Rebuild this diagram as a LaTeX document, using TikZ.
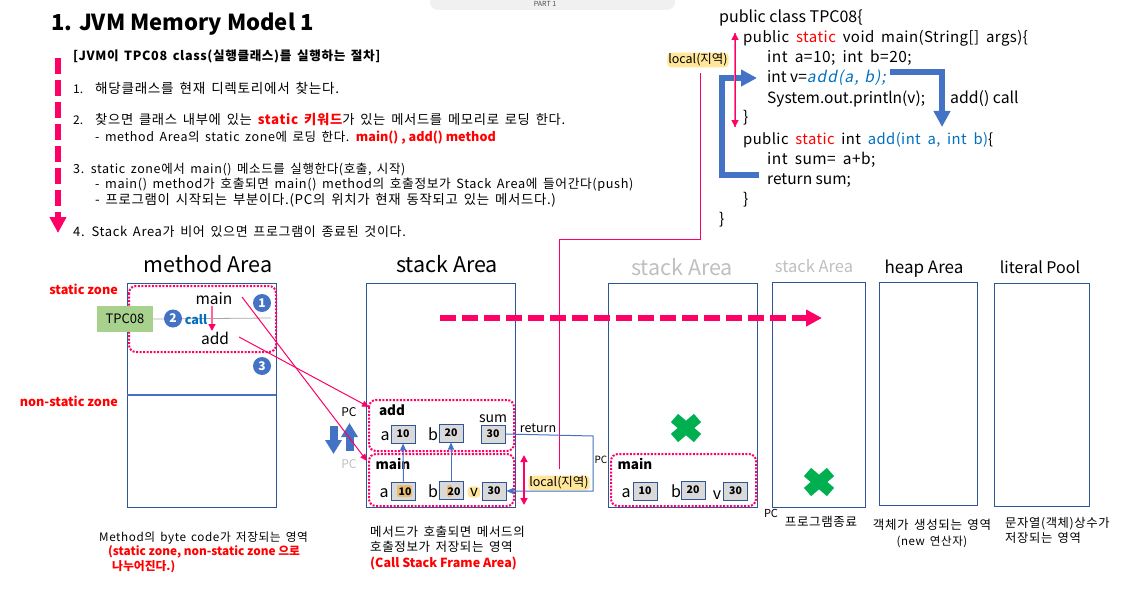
\documentclass[tikz,border=0pt]{standalone}
\usepackage{fontspec}
\setmainfont{Noto Sans CJK KR}
\newfontfamily\kr[LetterSpace=5,WordSpace=1.6]{Noto Sans CJK KR}
\newfontfamily\cwide[LetterSpace=3,WordSpace=1.8]{Noto Sans CJK KR}
\newfontfamily\slanted[FakeSlant=0.2,LetterSpace=7,WordSpace=1.3]{Noto Sans CJK KR}
\usetikzlibrary{calc,positioning,arrows.meta}
\newcommand{\fs}[1]{\fontsize{#1pt}{#1pt}\selectfont}
\definecolor{memblue}{HTML}{2F5597}
\definecolor{arrblue}{HTML}{4472C4}
\definecolor{hotpink}{HTML}{FF0066}
\definecolor{softpink}{HTML}{FF6699}
\definecolor{kwblue}{HTML}{0070C0}
\definecolor{locyellow}{HTML}{FFE699}
\definecolor{tpcgreen}{HTML}{A9D18E}
\definecolor{xgreen}{HTML}{00B050}
\tikzset{
  txt/.style={anchor=mid west,inner sep=0pt},
  ctr/.style={anchor=mid,inner sep=0pt},
  area/.style={draw=memblue,line width=1pt},
  zone/.style={draw=hotpink,line width=2pt,dash pattern=on 2pt off 1.5pt,rounded corners=7pt},
  cell/.style={draw=memblue,fill=black!15,line width=1pt,inner sep=0pt,minimum width=24pt,minimum height=18pt,font=\fs{10.5}\bfseries},
  num/.style={circle,fill=arrblue,text=white,inner sep=0pt,minimum size=18pt,font=\fs{12}\bfseries},
  local/.style={fill=locyellow,rounded corners=4pt,inner sep=1pt,font=\fs{12.5}},
  link/.style={draw=hotpink,line width=1pt},
  bigblue/.style={draw=arrblue,line width=5.5pt,-{Triangle[width=16pt,length=16pt]}},
  fatblue/.style={draw=arrblue,line width=8pt,-{Triangle[width=16pt,length=14pt]}},
  thinblue/.style={draw=arrblue,line width=1pt,-{Triangle[width=6pt,length=7pt]}},
  bigpink/.style={draw=hotpink,line width=5.5pt,dash pattern=on 16pt off 6pt,-{Triangle[width=16pt,length=16pt]}},
  crossmark/.style={draw=xgreen,line width=11pt}
}
\begin{document}
\begin{tikzpicture}[x=1pt,y=-1pt]
\useasboundingbox (0,0) rectangle (1131,591);
% page tab
\fill[black!6,rounded corners=8pt] (430,-12) rectangle (675,10);
\node[ctr,font=\fs{7},black!70] (part) at (545,4) {PART 1};
% steps
\node[txt,font=\fs{22}\bfseries] (title) at (51,28) {1. JVM Memory Model 1};
\draw[bigpink] (58,58)--(58,233);
\node[txt,font=\kr\fs{12.6}\bfseries] (head) at (73,58) {[JVM이 TPC08 class(실행클래스)를 실행하는 절차]};
\node[txt,font=\fs{12}] (one) at (73,91) {1.};
\node[txt,font=\kr\fs{13.6}] (oneb) at (95,91) {해당클래스를 현재 디렉토리에서 찾는다.};
\node[txt,font=\fs{12}] (two) at (73,122) {2.};
\node[txt,font=\kr\fs{13.3}] (twob) at (95,122) {찾으면 클래스 내부에 있는 \textcolor{red}{\bfseries static 키워드}가 있는 메서드를 메모리로 로딩 한다.};
\node[txt,font=\kr\fs{12.5}] (twoc) at (95,139) {- method Area의 static zone에 로딩 한다. \textcolor{red}{\normalfont\fs{12.6}\bfseries main() , add() method}};
\node[txt,font=\kr\fs{12.5}] (three) at (73,171) {3. static zone에서 main() 메소드를 실행한다(호출, 시작)};
\node[txt,font=\kr\fs{12.7}] (threeb) at (95,186) {- main() method가 호출되면 main() method의 호출정보가 Stack Area에 들어간다(push)};
\node[txt,font=\kr\fs{13.4}] (threec) at (95,202) {- 프로그램이 시작되는 부분이다.(PC의 위치가 현재 동작되고 있는 메서드다.)};
\node[txt,font=\kr\fs{13}] (four) at (73,234) {4. Stack Area가 비어 있으면 프로그램이 종료된 것이다.};
% code
\begin{scope}[every node/.style={txt,font=\fs{15.5}}]
  \node[font=\fs{16}] (cA) at (719,20) {public class TPC08\{};
  \node[font=\cwide\fs{15}] (cB) at (743,40) {public \textcolor{red}{static} void main(String[] args)\{};
  \node[font=\cwide\fs{15.5}] (cC) at (767,60) {int a=10; int b=20;};
  \node (cD) at (767,80) {int v=\textcolor{kwblue}{\slanted add(a, b);}};
  \node (cE) at (767,101) {System.out.println(v);};
  \node (cF) at (743,120) {\}};
  \node[font=\cwide\fs{14.8}] (cG) at (743,142) {public \textcolor{red}{static} int \textcolor{kwblue}{add(int a, int b)}\{};
  \node[font=\cwide\fs{15.5}] (cH) at (767,162) {int sum= a+b;};
  \node (cI) at (767,182) {return sum;};
  \node (cJ) at (743,202) {\}};
  \node (cK) at (719,222) {\}};
  \node[font=\fs{15.8}] (callnote) at (950,101) {add() call};
\end{scope}
\coordinate (callfrom) at (890,72);
\coordinate (callto) at (942,127);
\coordinate (backfrom) at (759,175);
\coordinate (backto) at (757,78);
\draw[bigblue] (callfrom)-|(callto);
\draw[bigblue] (backfrom)--(722,175)|-(backto);
\coordinate (scopetop) at (735,33);
\coordinate (scopeend) at (735,127);
\draw[softpink,line width=1.5pt] (scopetop)--(scopeend);
\draw[hotpink,line width=0.2pt,{Triangle[width=7pt,length=7pt]}-{Triangle[width=7pt,length=7pt]}] (scopetop)--(scopeend);
\node[local] (locA) at (698,60) {local(지역)};
\node[local] (locB) at (559,483) {local(지역)};
\coordinate (locturn) at (700,239);
\draw[link,shorten <=6pt,shorten >=5pt] (locB.north)|-(locturn)--(locturn|-locA.south);
% areas
\node[ctr,font=\fs{21.5}] (mtitle) at (208,270) {method Area};
\node[ctr,font=\fs{21.5}] (stitle) at (447,270) {stack Area};
\node[ctr,font=\fs{21.5},black!25] (s2title) at (682,273) {stack Area};
\node[ctr,font=\fs{16.5},black!25] (s3title) at (814,270) {stack Area};
\node[ctr,font=\fs{17}] (htitle) at (924,271) {heap Area};
\node[ctr,font=\fs{16}] (ltitle) at (1040,271) {literal Pool};
\draw[area] (127,283) rectangle (276,507);
\draw[arrblue,line width=1.5pt] (127,395)--(276,395);
\draw[area] (366.5,283) rectangle (515.5,507);
\draw[area] (608,283) rectangle (757,507);
\draw[area] (772,282) rectangle (865,507);
\draw[area] (879,282) rectangle (977,505);
\draw[area] (994,283) rectangle (1089,506);
% method area
\node[ctr,font=\fs{12.6}\bfseries,red,anchor=mid east] (szone) at (118,292) {static zone};
\node[ctr,font=\fs{12.6}\bfseries,red,anchor=mid east] (nzone) at (118,404) {non-static zone};
\draw[zone] (129,286) rectangle (276,352);
\node[fill=tpcgreen,inner sep=0pt,minimum width=56pt,minimum height=26pt,font=\fs{13}] (tpc) at (125,319) {TPC08};
\coordinate (wireend) at (271,318);
\draw[black!35,line width=0.8pt] (tpc.east)--(wireend);
\node[num] (nA) at (262,303) {1};
\node[num] (nB) at (173,318.5) {2};
\node[num] (nC) at (262,366) {3};
\node[ctr,font=\fs{12.5}\bfseries,kwblue] (call) at (196,322) {call};
\node[ctr,font=\fs{15.5}] (mmain) at (214,302) {main};
\node[ctr,font=\fs{15.5}] (madd) at (215,342) {add};
\draw[softpink,line width=1.5pt,-{Triangle[width=7pt,length=7pt,color=hotpink,fill=hotpink]}] (212,306)--(212,331);
% stack frames
\draw[zone] (369,400) rectangle (514,451);
\draw[zone] (369,454) rectangle (514,506);
\node[ctr,font=\fs{13.5}\bfseries] (fadd) at (392,413) {add};
\node[ctr,font=\fs{13.5}\bfseries] (fmain) at (393,467) {main};
\node[cell] (ca) at (403,434) {10};
\node[cell] (cb) at (451,433) {20};
\node[cell] (cs) at (493,434) {30};
\node[ctr,font=\fs{16}] (la) at (385,438) {a};
\node[ctr,font=\fs{16}] (lb) at (433,438) {b};
\node[ctr,font=\fs{14}] (ls) at (493,420) {sum};
\node[cell] (da) at (403.5,491) {};
\fill[brown!40!locyellow,rounded corners=2pt] (397,485) rectangle (412,497);
\node[ctr,font=\fs{10.5}\bfseries] (dat) at (405,493) {10};
\node[cell] (db) at (451,490.5) {};
\fill[brown!40!locyellow,rounded corners=2pt] (447,485) rectangle (452,497);
\node[ctr,font=\fs{10.5}\bfseries] (dbt) at (454,493) {20};
\node[cell] (dv) at (494,491) {30};
\node[ctr,font=\fs{16}] (ma) at (384,495) {a};
\node[ctr,font=\fs{16}] (mb) at (433,495) {b};
\node[fill=locyellow,rounded corners=4pt,inner xsep=2.5pt,inner ysep=1.5pt,font=\fs{15}] (mv) at (474,492) {v};
\draw[thinblue] (da.north)--(ca.south);
\draw[thinblue] (db.north)--(cb.south);
\coordinate (retturn) at (593,436);
\draw[thinblue] (cs.east)--(retturn)|-(dv.east);
\node[ctr,font=\fs{12.5}] (ret) at (538,430) {return};
\node[ctr,font=\fs{10}] (pcC) at (601,461) {PC};
\node[ctr,font=\fs{12}] (pcA) at (349,414) {PC};
\node[ctr,font=\fs{12},black!25] (pcB) at (349,466) {PC};
\coordinate (pcdowna) at (333.5,426);
\coordinate (pcdownb) at (333.5,454);
\coordinate (pcupa) at (349.5,451);
\coordinate (pcupb) at (349.5,423);
\draw[fatblue] (pcdowna)--(pcdownb);
\draw[fatblue] (pcupa)--(pcupb);
\coordinate (mainfrom) at (242,297);
\coordinate (mainto) at (367,461);
\coordinate (addfrom) at (239,337);
\coordinate (addto) at (369,407);
\draw[link,-{Triangle[width=6pt,length=7pt]}] (mainfrom)--(mainto);
\draw[link,-{Triangle[width=6pt,length=7pt]}] (addfrom)--(addto);
\coordinate (locka) at (524,455);
\coordinate (lockb) at (524,505);
\draw[link,line width=1.5pt,{Triangle[width=7pt,length=7pt]}-{Triangle[width=7pt,length=7pt]}] (locka)--(lockb);
% second stack
\draw[zone] (611,454) rectangle (756,506);
\node[ctr,font=\fs{13.5}\bfseries] (gmain) at (635,467) {main};
\foreach \nm/\xa/\ya/\lab/\xb/\yb/\val in {ga/626/495/a/645/491/10,gb/676/495/b/693/490/20,gv/717/497/v/735.5/491/30}{
  \node[ctr,font=\fs{16}] (\nm l) at (\xa,\ya) {\lab};
  \node[cell] (\nm c) at (\xb,\yb) {\val};
}
\draw[crossmark] (674.5,418)--(697.5,438) (697.5,418)--(674.5,438);
\draw[crossmark] (807.5,472)--(830.5,492) (830.5,472)--(807.5,492);
\node[ctr,font=\fs{11}] (pcD) at (771,515) {PC};
\node[ctr,font=\kr\fs{12.5}] (endA) at (821,524) {프로그램종료};
% notes
\node[ctr,font=\kr\fs{12.5}] (hpA) at (932,527) {객체가 생성되는 영역};
\node[ctr,font=\kr\fs{11.5}] (hpB) at (932,543) {(new 연산자)};
\node[txt,font=\kr\fs{12.3}] (ltA) at (1005,525) {문자열(객체)상수가};
\node[txt,font=\kr\fs{12.3}] (ltB) at (1005,540) {저장되는 영역};
\node[txt,font=\kr\fs{11.7}] (nmA) at (99,539) {Method의 byte code가 저장되는 영역};
\node[txt,font=\fs{11.8}\bfseries,red] (nmB) at (108,553) {(static zone, non-static zone 으로};
\node[txt,font=\fs{11.8}\bfseries,red] (nmC) at (112,568) {나누어진다.)};
\node[txt,font=\kr\fs{12.5}] (nsA) at (370,534) {메서드가 호출되면 메서드의};
\node[txt,font=\kr\fs{12.5}] (nsB) at (370,549) {호출정보가 저장되는 영역};
\node[txt,font=\fs{12.5}\bfseries,red] (nsC) at (370,565) {(Call Stack Frame Area)};
\coordinate (flowa) at (440,318);
\coordinate (flowb) at (822,318);
\draw[bigpink] (flowa)--(flowb);
\end{tikzpicture}
\end{document}
